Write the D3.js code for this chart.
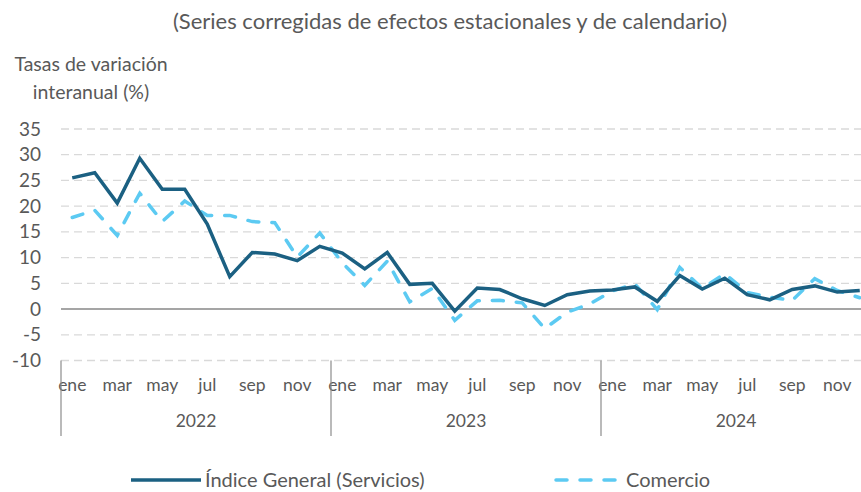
<!DOCTYPE html>
<html lang="es">
<head>
<meta charset="UTF-8">
<title>Tasas de variación interanual</title>
<script src="https://d3js.org/d3.v7.min.js"></script>
<style>
  body { margin: 0; background: #fff; }
  svg text { font-family: Lato, "Open Sans", sans-serif; fill: #595959; }
</style>
</head>
<body>
<svg id="chart" width="861" height="492"></svg>
<script>
// data
const months = ["ene","feb","mar","abr","may","jun","jul","ago","sep","oct","nov","dic"];
const years = ["2022", "2023", "2024"];
const general = [
  25.5, 26.5, 20.6, 29.3, 23.3, 23.3, 16.5, 6.3, 11.0, 10.7, 9.4, 12.2,
  10.9, 7.8, 11.0, 4.8, 5.0, -0.4, 4.1, 3.8, 2.0, 0.7, 2.8, 3.5,
  3.7, 4.3, 1.5, 6.5, 3.9, 6.0, 2.8, 1.8, 3.8, 4.5, 3.3, 3.6
];
const comercio = [
  17.8, 19.2, 14.3, 22.5, 17.0, 21.0, 18.2, 18.2, 17.0, 16.8, 10.1, 14.8,
  9.0, 4.6, 9.3, 1.4, 4.0, -2.2, 1.6, 1.7, 1.2, -3.8, -0.6, 1.0,
  3.5, 4.9, -0.1, 8.1, 4.0, 6.9, 3.2, 2.3, 1.7, 5.9, 3.6, 2.2
];
const yTicks = [35, 30, 25, 20, 15, 10, 5, 0, -5, -10];
const seriesNames = ["Índice General (Servicios)", "Comercio"];

const DARK = "#1b6082";
const LIGHT = "#5ccaf2";

const svg = d3.select("#chart");
const plotLeft = 61, plotRight = 871;

const periods = d3.range(years.length * months.length);
const x = d3.scaleBand().domain(periods).range([plotLeft, plotRight]).padding(0);
const y = d3.scaleLinear().domain([-10, 35]).range([360.5, 129]);
const cx = i => x(i) + x.bandwidth() / 2;

// title
svg.append("text")
  .attr("x", 450).attr("y", 29)
  .attr("text-anchor", "middle")
  .style("font-size", "22px")
  .text("(Series corregidas de efectos estacionales y de calendario)");

// y axis title
svg.append("text")
  .attr("x", 91).attr("y", 71)
  .attr("text-anchor", "middle")
  .style("font-size", "19.5px")
  .text("Tasas de variación");
svg.append("text")
  .attr("x", 91).attr("y", 99)
  .attr("text-anchor", "middle")
  .style("font-size", "19.5px")
  .text("interanual (%)");

// gridlines
svg.append("g")
  .selectAll("line")
  .data(yTicks.filter(d => d !== 0))
  .join("line")
  .attr("x1", plotLeft).attr("x2", plotRight)
  .attr("y1", d => y(d)).attr("y2", d => y(d))
  .attr("stroke", "#d9d9d9")
  .attr("stroke-width", 1.3)
  .attr("stroke-dasharray", "8,5");

// y axis labels (plain hyphen for negatives)
const yAxis = svg.append("g")
  .attr("transform", `translate(${plotLeft},0)`)
  .call(d3.axisLeft(y).tickValues(yTicks).tickFormat(d => String(d)).tickSize(0).tickPadding(20));
yAxis.select(".domain").remove();
yAxis.selectAll("text")
  .style("font-size", "19px")
  .style("font-family", "Lato, 'Open Sans', sans-serif")
  .attr("fill", "#595959");

// zero line
svg.append("line")
  .attr("x1", plotLeft).attr("x2", plotRight)
  .attr("y1", y(0)).attr("y2", y(0))
  .attr("stroke", "#878787")
  .attr("stroke-width", 1.6);

// x axis: month labels
svg.append("g")
  .selectAll("text")
  .data(periods.filter(i => i % 2 === 0))
  .join("text")
  .attr("x", i => cx(i))
  .attr("y", 391)
  .attr("text-anchor", "middle")
  .style("font-size", "17.5px")
  .text(i => months[i % 12]);

// year separators
svg.append("g")
  .selectAll("line")
  .data(d3.range(years.length + 1))
  .join("line")
  .attr("x1", k => x(k * 12) ?? plotRight)
  .attr("x2", k => x(k * 12) ?? plotRight)
  .attr("y1", 360.5).attr("y2", 436)
  .attr("stroke", "#8c8c8c")
  .attr("stroke-width", 1.2);

// year labels
svg.append("g")
  .selectAll("text")
  .data(years)
  .join("text")
  .attr("x", (d, k) => (x(k * 12) + (x(k * 12 + 11) + x.bandwidth())) / 2)
  .attr("y", 427)
  .attr("text-anchor", "middle")
  .style("font-size", "17.5px")
  .text(d => d);

// lines
const line = d3.line().x((d, i) => cx(i)).y(d => y(d));

svg.append("path")
  .datum(comercio)
  .attr("d", line)
  .attr("fill", "none")
  .attr("stroke", LIGHT)
  .attr("stroke-width", 3.5)
  .attr("stroke-linecap", "round")
  .attr("stroke-dasharray", "11,13");

svg.append("path")
  .datum(general)
  .attr("d", line)
  .attr("fill", "none")
  .attr("stroke", DARK)
  .attr("stroke-width", 3.5)
  .attr("stroke-linejoin", "miter");

// legend
const legend = svg.append("g");
legend.append("line")
  .attr("x1", 131).attr("x2", 201).attr("y1", 480).attr("y2", 480)
  .attr("stroke", DARK).attr("stroke-width", 3.5);
legend.append("text")
  .attr("x", 205).attr("y", 487)
  .style("font-size", "20px")
  .text(seriesNames[0]);
legend.append("line")
  .attr("x1", 556).attr("x2", 620).attr("y1", 480).attr("y2", 480)
  .attr("stroke", LIGHT).attr("stroke-width", 3.5)
  .attr("stroke-linecap", "round")
  .attr("stroke-dasharray", "11,13");
legend.append("text")
  .attr("x", 626).attr("y", 487)
  .style("font-size", "20px")
  .text(seriesNames[1]);
</script>
</body>
</html>
